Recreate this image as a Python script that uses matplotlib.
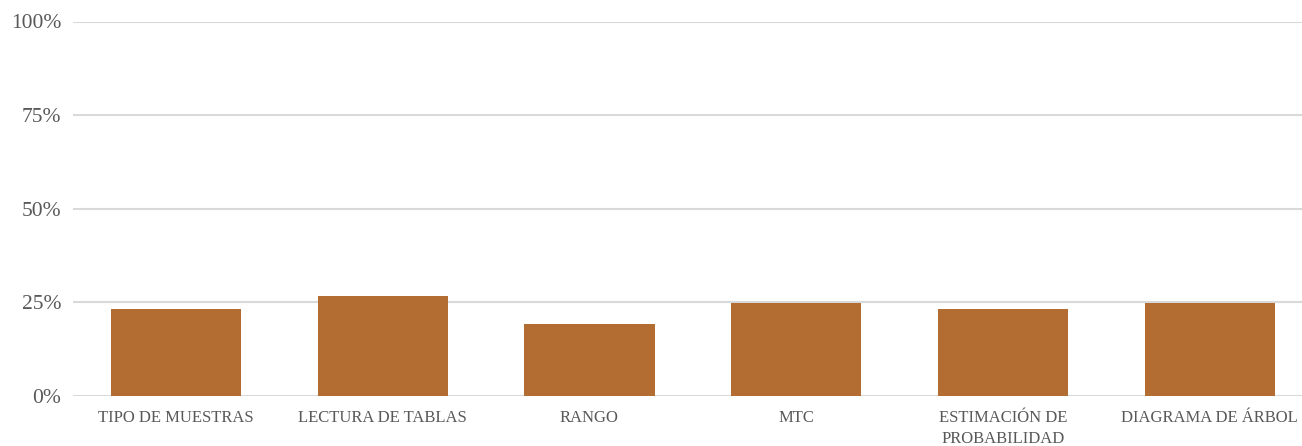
import matplotlib
matplotlib.use("Agg")
import matplotlib.pyplot as plt
from matplotlib.ticker import FuncFormatter

categories = ["TIPO DE MUESTRAS", "LECTURA DE TABLAS", "RANGO", "MTC",
              "ESTIMACIÓN DE\nPROBABILIDAD", "DIAGRAMA DE ÁRBOL"]
values = [0.232, 0.268, 0.191, 0.248, 0.232, 0.248]
y_ticks = [0, 0.25, 0.5, 0.75, 1.0]

plt.rcParams["font.family"] = ["Liberation Serif", "DejaVu Serif"]

W, H = 1302, 446
fig = plt.figure(figsize=(W / 100, H / 100), dpi=100)
left, right = 72.6, 1313.0
bottom, top = 50.0, 424.5
ax = fig.add_axes([left / W, bottom / H, (right - left) / W, (top - bottom) / H])

x = range(len(categories))
ax.bar(x, values, width=0.63, color="#B36D33", zorder=3)

ax.set_xlim(-0.5, len(categories) - 0.5)
ax.set_ylim(0, 1)
ax.set_yticks(y_ticks)
ax.yaxis.set_major_formatter(FuncFormatter(lambda v, _: f"{v * 100:.0f}%"))
ax.grid(axis="y", color="#d9d9d9", linewidth=1.5, zorder=0)
ax.set_xticks(list(x))
ax.set_xticklabels(categories, fontsize=12, color="#595959", linespacing=1.45)
ax.tick_params(axis="y", labelsize=15.5, colors="#595959", length=0, pad=8)
ax.tick_params(axis="x", length=0, pad=10)
for s in ax.spines.values():
    s.set_visible(False)

fig.savefig("out.png", dpi=100)
